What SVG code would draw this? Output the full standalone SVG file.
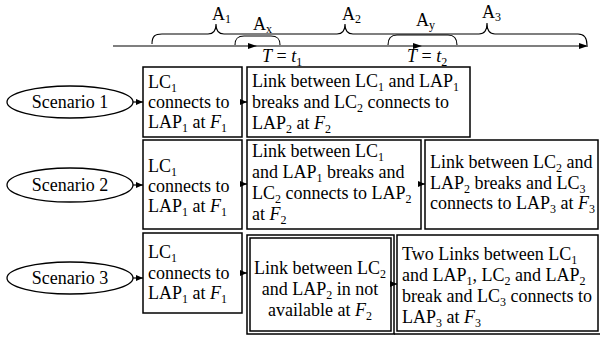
<svg xmlns="http://www.w3.org/2000/svg" width="600" height="337" viewBox="0 0 600 337">
<style>
.t{font-family:"Liberation Serif","Times New Roman",serif;font-size:18px;fill:#000}
.s{font-size:12px}
.i{font-style:italic}
.box{fill:#fff;stroke:#000;stroke-width:1.5}
.el{fill:#fff;stroke:#000;stroke-width:1.3}
.ln{fill:none;stroke:#000;stroke-width:1.2}
.br{fill:none;stroke:#000;stroke-width:1.1}
</style>
<defs>
<marker id="ah" markerUnits="userSpaceOnUse" markerWidth="7" markerHeight="6" refX="7" refY="3" orient="auto"><path d="M0,0 L7,3 L0,6 z" fill="#000"/></marker>
<marker id="ta" markerUnits="userSpaceOnUse" markerWidth="9" markerHeight="6" refX="9" refY="3" orient="auto"><path d="M0,0 L9,3 L0,6 z" fill="#000"/></marker>
</defs>
<rect width="600" height="337" fill="#fff"/>

<g id="timeline">
<path class="br" d="M152,44 C152,36 155,34 162,34 H208 C213,34 216,31 216,24 C216,31 219,34 224,34 H337 C342,34 345,31 345,24 C345,31 348,34 353,34 H479 C484,34 487,31 487,23 C487,31 490,34 495,34 H578 C584,34 587,38 587,45"/>
<path class="br" d="M235,45 C235,38 238,36 244,36 H271 C277,36 280,38 280,45"/>
<path class="br" d="M388,45 C388,38 391,35 397,35 H448 C454,35 457,38 457,45"/>
<text class="t" x="212" y="20">A<tspan class="s" dy="3">1</tspan></text>
<text class="t" x="253" y="30">A<tspan class="s" dy="3">x</tspan></text>
<text class="t" x="342" y="20">A<tspan class="s" dy="3">2</tspan></text>
<text class="t" x="416" y="26">A<tspan class="s" dy="3">y</tspan></text>
<text class="t" x="482" y="18">A<tspan class="s" dy="3">3</tspan></text>
<text class="t" x="262" y="62"><tspan class="i">T</tspan> = <tspan class="i">t</tspan><tspan class="s" dy="4">1</tspan></text>
<text class="t" x="407" y="62"><tspan class="i">T</tspan> = <tspan class="i">t</tspan><tspan class="s" dy="4">2</tspan></text>
</g>

<g id="scenario1">
<ellipse class="el" cx="70" cy="102" rx="63" ry="16"/>
<text class="t" x="70" y="108" text-anchor="middle">Scenario 1</text>
</g>
<g id="s1b1">
<rect class="box" x="143" y="67" width="99" height="70"/>
<text class="t" x="148" y="88">LC<tspan class="s" dy="4">1</tspan></text>
<text class="t" x="148" y="108">connects to</text>
<text class="t" x="148" y="128">LAP<tspan class="s" dy="4">1</tspan><tspan dy="-4"> at </tspan><tspan class="i">F</tspan><tspan class="s" dy="4">1</tspan></text>
</g>
<g id="s1b2">
<rect class="box" x="247" y="67" width="223" height="70"/>
<text class="t" x="252" y="87">Link between LC<tspan class="s" dy="4">1</tspan><tspan dy="-4"> and LAP</tspan><tspan class="s" dy="4">1</tspan></text>
<text class="t" x="252" y="108">breaks and LC<tspan class="s" dy="4">2</tspan><tspan dy="-4"> connects to</tspan></text>
<text class="t" x="252" y="129">LAP<tspan class="s" dy="4">2</tspan><tspan dy="-4"> at </tspan><tspan class="i">F</tspan><tspan class="s" dy="4">2</tspan></text>
</g>

<g id="scenario2">
<ellipse class="el" cx="70" cy="185" rx="63" ry="17"/>
<text class="t" x="70" y="191" text-anchor="middle">Scenario 2</text>
</g>
<g id="s2b1">
<rect class="box" x="143" y="140" width="99" height="89"/>
<text class="t" x="148" y="172">LC<tspan class="s" dy="4">1</tspan></text>
<text class="t" x="148" y="192">connects to</text>
<text class="t" x="148" y="212">LAP<tspan class="s" dy="4">1</tspan><tspan dy="-4"> at </tspan><tspan class="i">F</tspan><tspan class="s" dy="4">1</tspan></text>
</g>
<g id="s2b2">
<rect class="box" x="247" y="140" width="174" height="89"/>
<text class="t" x="252" y="157">Link between LC<tspan class="s" dy="4">1</tspan></text>
<text class="t" x="252" y="178">and LAP<tspan class="s" dy="4">1</tspan><tspan dy="-4"> breaks and</tspan></text>
<text class="t" x="252" y="199">LC<tspan class="s" dy="4">2</tspan><tspan dy="-4"> connects to LAP</tspan><tspan class="s" dy="4">2</tspan></text>
<text class="t" x="252" y="220">at <tspan class="i">F</tspan><tspan class="s" dy="4">2</tspan></text>
</g>
<g id="s2b3">
<rect class="box" x="425" y="140" width="173" height="89"/>
<text class="t" x="430" y="168">Link between LC<tspan class="s" dy="4">2</tspan><tspan dy="-4"> and</tspan></text>
<text class="t" x="430" y="189">LAP<tspan class="s" dy="4">2</tspan><tspan dy="-4"> breaks and LC</tspan><tspan class="s" dy="4">3</tspan></text>
<text class="t" x="430" y="209">connects to LAP<tspan class="s" dy="4">3</tspan><tspan dy="-4"> at </tspan><tspan class="i">F</tspan><tspan class="s" dy="4">3</tspan></text>
</g>

<g id="scenario3">
<ellipse class="el" cx="70" cy="278" rx="63" ry="16"/>
<text class="t" x="70" y="284" text-anchor="middle">Scenario 3</text>
</g>
<g id="s3b1">
<rect class="box" x="143" y="233" width="99" height="80"/>
<text class="t" x="148" y="258">LC<tspan class="s" dy="4">1</tspan></text>
<text class="t" x="148" y="279">connects to</text>
<text class="t" x="148" y="299">LAP<tspan class="s" dy="4">1</tspan><tspan dy="-4"> at </tspan><tspan class="i">F</tspan><tspan class="s" dy="4">1</tspan></text>
</g>
<g id="s3b2">
<rect class="box" x="247" y="235" width="147" height="99"/>
<rect class="box" x="250" y="238" width="141" height="93"/>
<text class="t" x="320" y="274" text-anchor="middle">Link between LC<tspan class="s" dy="4">2</tspan></text>
<text class="t" x="320" y="295" text-anchor="middle">and LAP<tspan class="s" dy="4">2</tspan><tspan dy="-4"> in not</tspan></text>
<text class="t" x="320" y="316" text-anchor="middle">available at <tspan class="i">F</tspan><tspan class="s" dy="4">2</tspan></text>
</g>
<g id="s3b3">
<path class="box" d="M394,334 H600" fill="none"/>
<rect class="box" x="397" y="235" width="201" height="96"/>
<text class="t" x="402" y="260">Two Links between LC<tspan class="s" dy="4">1</tspan></text>
<text class="t" x="402" y="281">and LAP<tspan class="s" dy="4">1</tspan><tspan dy="-4">, LC</tspan><tspan class="s" dy="4">2</tspan><tspan dy="-4"> and LAP</tspan><tspan class="s" dy="4">2</tspan></text>
<text class="t" x="402" y="302">break and LC<tspan class="s" dy="4">3</tspan><tspan dy="-4"> connects to</tspan></text>
<text class="t" x="402" y="323">LAP<tspan class="s" dy="4">3</tspan><tspan dy="-4"> at </tspan><tspan class="i">F</tspan><tspan class="s" dy="4">3</tspan></text>
</g>

<g id="connectors">
<line class="ln" x1="113" y1="46" x2="257" y2="46" marker-end="url(#ta)"/>
<line class="ln" x1="257" y1="46" x2="422" y2="46" marker-end="url(#ta)" stroke-width="1.5"/>
<line class="ln" x1="422" y1="46" x2="588" y2="46" marker-end="url(#ta)"/>
<line class="ln" x1="133" y1="102" x2="143" y2="102" marker-end="url(#ah)"/>
<line class="ln" x1="242" y1="102" x2="247" y2="102" marker-end="url(#ah)"/>
<line class="ln" x1="133" y1="185" x2="143" y2="185" marker-end="url(#ah)"/>
<line class="ln" x1="242" y1="184" x2="247" y2="184" marker-end="url(#ah)"/>
<line class="ln" x1="421" y1="184" x2="425" y2="184" marker-end="url(#ah)"/>
<line class="ln" x1="133" y1="278" x2="143" y2="278" marker-end="url(#ah)"/>
<line class="ln" x1="242" y1="273" x2="247" y2="273" marker-end="url(#ah)"/>
<line class="ln" x1="394" y1="284" x2="397" y2="284" marker-end="url(#ah)"/>
</g>
</svg>
